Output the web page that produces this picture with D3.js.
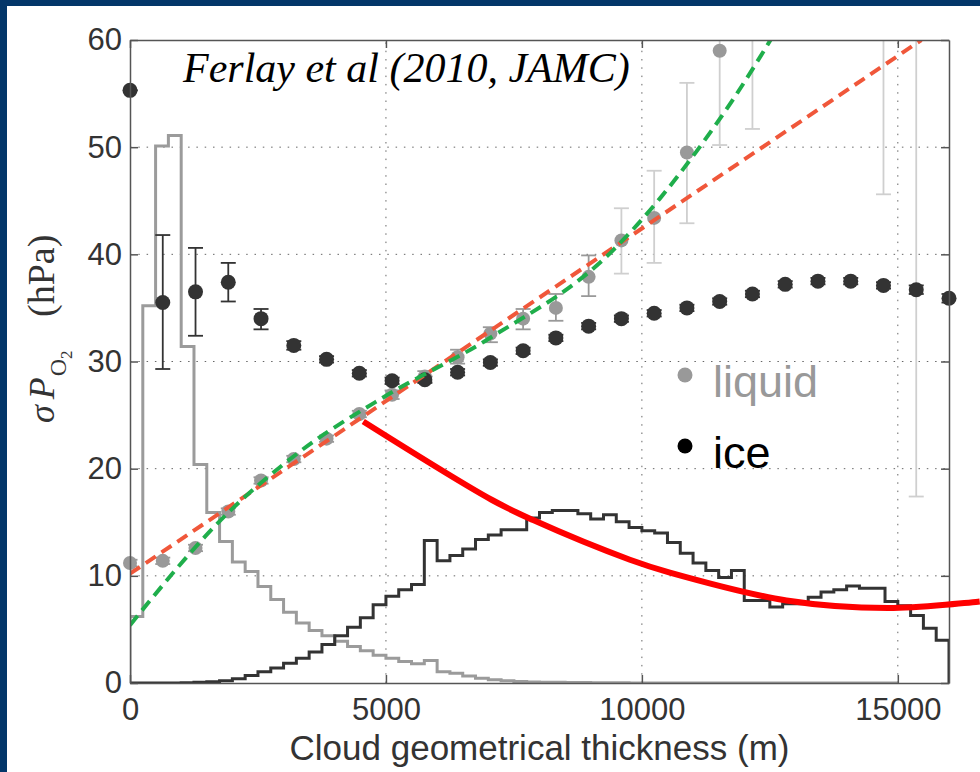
<!DOCTYPE html>
<html>
<head>
<meta charset="utf-8">
<script src="https://cdn.jsdelivr.net/npm/d3@7"></script>
<style>
  body { margin: 0; background: #fff; }
</style>
</head>
<body>
<div id="chart"></div>
<script>
// histogram bins (250 m wide), arbitrary units on the sigma axis
var binWidth = 250;
var liquidHist = [6.2, 35.2, 50.1, 51.1, 31.4, 20.4, 15.9, 13.2, 11.3, 10.4,
                  9.0, 7.8, 6.6, 5.6, 4.9, 4.4, 3.9, 3.4, 3.0, 2.6,
                  2.3, 2.0, 1.8, 2.1, 1.05, 0.9, 0.65, 0.45, 0.3, 0.2,
                  0.15, 0.1, 0.08, 0.06, 0.05, 0.04, 0.03, 0.02, 0.02, 0.01,
                  0.01, 0, 0, 0, 0, 0, 0, 0, 0, 0,
                  0, 0, 0, 0, 0, 0, 0, 0, 0, 0];
var iceHist = [0, 0, 0, 0, 0.03, 0.06, 0.12, 0.2, 0.4, 0.7,
               1.05, 1.4, 1.85, 2.3, 2.9, 3.6, 4.4, 5.2, 6.1, 7.3,
               8.1, 8.7, 9.2, 13.3, 11.4, 11.9, 12.5, 13.4, 13.8, 14.3,
               14.3, 15.4, 15.9, 16.1, 16.1, 15.8, 15.3, 15.7, 15.05, 14.5,
               14.2, 14.0, 13.1, 12.1, 11.2, 10.5, 9.85, 10.5, 7.7, 7.7,
               7.1, 7.4, 7.4, 8.0, 8.5, 8.7, 9.05, 8.85, 8.85, 7.6,
               7.2, 6.3, 5.1, 4.0];

// liquid clouds: mean sigma and error range (null mean = off the chart)
var liquidThick = [0, 640, 1280, 1920, 2560, 3200, 3840, 4480, 5120, 5760,
                   6400, 7040, 7680, 8320, 8960, 9600, 10240, 10880, 11520, 12160,
                   14720, 15360];
var liquidMean = [11.2, 11.4, 12.6, 16.0, 18.9, 20.9, 22.8, 25.1, 26.9, 28.6,
                  30.4, 32.6, 34.0, 35.0, 37.9, 41.3, 43.4, 49.5, 59.0, null,
                  null, null];
var liquidLow = [10.9, 11.1, 12.3, 15.7, 18.6, 20.6, 22.5, 24.8, 26.5, 28.1,
                 29.8, 31.8, 33.0, 33.8, 36.1, 38.2, 39.2, 42.9, 50.2, 51.7,
                 45.6, 17.4];
var liquidHigh = [11.5, 11.7, 12.9, 16.3, 19.2, 21.2, 23.1, 25.4, 27.3, 29.1,
                  31.1, 33.2, 34.9, 36.3, 39.9, 44.3, 47.8, 56.0, 66, 70,
                  75, 90];

// ice clouds
var iceThick = [0, 640, 1280, 1920, 2560, 3200, 3840, 4480, 5120, 5760,
                6400, 7040, 7680, 8320, 8960, 9600, 10240, 10880, 11520, 12160,
                12800, 13440, 14080, 14720, 15360, 16000];
var iceMean = [55.3, 35.5, 36.5, 37.4, 34.0, 31.5, 30.2, 28.9, 28.2, 28.3,
               29.0, 29.9, 31.0, 32.2, 33.3, 34.0, 34.5, 35.0, 35.6, 36.3,
               37.2, 37.5, 37.5, 37.1, 36.7, 35.9];
var iceLow = [55.3, 29.3, 32.4, 35.6, 33.0, 31.1, 29.9, 28.6, 27.9, 28.0,
              28.7, 29.6, 30.7, 31.9, 33.0, 33.7, 34.2, 34.7, 35.3, 36.0,
              36.9, 37.2, 37.2, 36.8, 36.3, 35.5];
var iceHigh = [55.3, 41.8, 40.6, 39.2, 34.9, 31.9, 30.5, 29.2, 28.5, 28.6,
               29.3, 30.2, 31.3, 32.5, 33.6, 34.3, 34.8, 35.3, 35.9, 36.6,
               37.5, 37.8, 37.8, 37.4, 37.1, 36.3];

// fitted curves
var linearFit = [[0, 10.2], [15460, 60]];
var cubicFit = [[0, 5.4], [1920, 15.9], [3320, 21.6], [5000, 26.8], [7000, 32.1],
                [9440, 40.4], [10350, 45.2], [11035, 49.4], [11816, 54.7], [12513, 60]];
var sketchCurve = [[4557, 24.4], [7064, 17.1], [7876, 15.2], [9766, 11.5], [10547, 10.3],
                   [12826, 7.7], [14805, 7.0], [16600, 7.6]];

var xTicks = [0, 5000, 10000, 15000];
var yTicks = [0, 10, 20, 30, 40, 50, 60];
var legendLabels = ["liquid", "ice"];

var width = 980, height = 772;
var margin = {top: 40, right: 31, bottom: 89, left: 130};

var svg = d3.select("#chart")
  .append("svg")
    .attr("width", width)
    .attr("height", height);

svg.append("rect").attr("width", width).attr("height", height).attr("fill", "#fff");
// navy slide frame
svg.append("rect").attr("x", 0).attr("y", 0).attr("width", width).attr("height", 6).attr("fill", "#033669");
svg.append("rect").attr("x", 0).attr("y", 0).attr("width", 7).attr("height", height).attr("fill", "#033669");

var x = d3.scaleLinear()
  .domain([0, 16000])
  .range([margin.left, width - margin.right]);
var y = d3.scaleLinear()
  .domain([0, 60])
  .range([height - margin.bottom, margin.top]);

svg.append("defs").append("clipPath").attr("id", "plotClip")
  .append("rect")
    .attr("x", x(0)).attr("y", y(60))
    .attr("width", x(16000) - x(0)).attr("height", y(0) - y(60));

// dotted grid
var grid = svg.append("g").attr("stroke", "#666").attr("stroke-width", 1).attr("stroke-dasharray", "1.5,6.8");
grid.selectAll(".gx").data(xTicks.filter(function(d) { return d > 0; }))
  .enter().append("line")
    .attr("x1", function(d) { return x(d); }).attr("x2", function(d) { return x(d); })
    .attr("y1", y(0)).attr("y2", y(60));
grid.selectAll(".gy").data(yTicks.filter(function(d) { return d > 0 && d < 60; }))
  .enter().append("line")
    .attr("x1", x(0)).attr("x2", x(16000))
    .attr("y1", function(d) { return y(d); }).attr("y2", function(d) { return y(d); });

// histograms as step lines
function histPoints(vals) {
  var pts = [[0, 0]];
  vals.forEach(function(v, i) { pts.push([i * binWidth, v]); });
  pts.push([vals.length * binWidth, vals[vals.length - 1]]);
  pts.push([vals.length * binWidth, 0]);
  return pts;
}
var stepLine = d3.line()
  .x(function(d) { return x(d[0]); })
  .y(function(d) { return y(d[1]); })
  .curve(d3.curveStepAfter);

var plot = svg.append("g").attr("clip-path", "url(#plotClip)");
plot.append("path")
  .datum(histPoints(liquidHist))
  .attr("fill", "none").attr("stroke", "#9b9b9b").attr("stroke-width", 3)
  .attr("d", stepLine);
plot.append("path")
  .datum(histPoints(iceHist))
  .attr("fill", "none").attr("stroke", "#333").attr("stroke-width", 3)
  .attr("d", stepLine);

// error bars
function errorBars(thick, low, high, colorFn) {
  var g = plot.append("g");
  thick.forEach(function(t, i) {
    var c = colorFn(i);
    g.append("line").attr("x1", x(t)).attr("x2", x(t)).attr("y1", y(low[i])).attr("y2", y(high[i]))
      .attr("stroke", c).attr("stroke-width", 1.8);
    [low[i], high[i]].forEach(function(v) {
      g.append("line").attr("x1", x(t) - 7.5).attr("x2", x(t) + 7.5).attr("y1", y(v)).attr("y2", y(v))
        .attr("stroke", c).attr("stroke-width", 1.8);
    });
  });
}
errorBars(liquidThick, liquidLow, liquidHigh, function(i) {
  return (liquidHigh[i] - liquidLow[i]) > 5 ? "#cfcfcf" : "#999";
});

var liquidPts = liquidThick.map(function(t, i) { return {t: t, v: liquidMean[i]}; })
  .filter(function(d) { return d.v !== null; });
svg.append("g").selectAll("circle").data(liquidPts).enter().append("circle")
  .attr("cx", function(d) { return x(d.t); })
  .attr("cy", function(d) { return y(d.v); })
  .attr("r", 7)
  .attr("fill", "#999");

errorBars(iceThick, iceLow, iceHigh, function() { return "#333"; });
svg.append("g").selectAll("circle").data(iceThick).enter().append("circle")
  .attr("cx", function(d) { return x(d); })
  .attr("cy", function(d, i) { return y(iceMean[i]); })
  .attr("r", 7.5)
  .attr("fill", "#333");

// dashed fits
var fitLine = d3.line()
  .x(function(d) { return x(d[0]); })
  .y(function(d) { return y(d[1]); });
var fits = svg.append("g").attr("clip-path", "url(#plotClip)");
fits.append("path")
  .datum(linearFit)
  .attr("fill", "none").attr("stroke", "#f0573a").attr("stroke-width", 4)
  .attr("stroke-dasharray", "12,7")
  .attr("d", fitLine);
fits.append("path")
  .datum(cubicFit)
  .attr("fill", "none").attr("stroke", "#1fae4b").attr("stroke-width", 4)
  .attr("stroke-dasharray", "12,7")
  .attr("d", fitLine.curve(d3.curveMonotoneX));

// box and inner ticks
var axisFont = "'Liberation Sans', Arial, Helvetica, sans-serif";
var yAxisL = svg.append("g")
  .attr("transform", "translate(" + x(0) + ",0)")
  .call(d3.axisLeft(y).tickValues(yTicks).tickSizeInner(-8).tickSizeOuter(0).tickPadding(8));
var xAxisB = svg.append("g")
  .attr("transform", "translate(0," + y(0) + ")")
  .call(d3.axisBottom(x).tickValues(xTicks).tickFormat(d3.format("d"))
    .tickSizeInner(-8).tickSizeOuter(0).tickPadding(15));
var yAxisR = svg.append("g")
  .attr("transform", "translate(" + x(16000) + ",0)")
  .call(d3.axisRight(y).tickValues(yTicks).tickSizeInner(-8).tickSizeOuter(0).tickFormat(""));
var xAxisT = svg.append("g")
  .attr("transform", "translate(0," + y(60) + ")")
  .call(d3.axisTop(x).tickValues(xTicks).tickSizeInner(-8).tickSizeOuter(0).tickFormat(""));

[yAxisL, xAxisB, yAxisR, xAxisT].forEach(function(a) {
  a.select(".domain").attr("stroke", "#555").attr("stroke-width", 1.5);
  a.selectAll(".tick line").attr("stroke", "#555").attr("stroke-width", 1.5);
  a.selectAll(".tick text").attr("fill", "#333").style("font-family", axisFont).style("font-size", "31px");
});
xAxisB.selectAll(".tick text").attr("dy", "0.71em");

// red sketched curve drawn over everything, not clipped
svg.append("path")
  .datum(sketchCurve)
  .attr("fill", "none").attr("stroke", "#ff0000").attr("stroke-width", 6)
  .attr("d", d3.line()
    .curve(d3.curveCatmullRom)
    .x(function(d) { return x(d[0]); })
    .y(function(d) { return y(d[1]); }));

// labels
svg.append("text")
  .text("Cloud geometrical thickness (m)")
  .attr("x", (x(0) + x(16000)) / 2).attr("y", 760)
  .attr("text-anchor", "middle")
  .attr("fill", "#333")
  .style("font-family", axisFont).style("font-size", "35px");

var serif = "'Liberation Serif', 'Times New Roman', Times, serif";
var yl = svg.append("text")
  .attr("transform", "translate(54,423) rotate(-90)")
  .attr("fill", "#333")
  .style("font-family", serif).style("font-size", "36px");
yl.append("tspan").text("\u03C3").style("font-style", "italic");
yl.append("tspan").text("P").attr("dx", 6).style("font-style", "italic");
yl.append("tspan").text("O").attr("dx", 1).attr("dy", 12).style("font-size", "24px");
yl.append("tspan").text("2").attr("dy", 6).style("font-size", "17px");
svg.append("text")
  .text("(hPa)")
  .attr("transform", "translate(54,317) rotate(-90)")
  .attr("fill", "#333")
  .style("font-family", serif).style("font-size", "38px");

svg.append("text")
  .text("Ferlay et al (2010, JAMC)")
  .attr("x", 183).attr("y", 82)
  .attr("fill", "#000")
  .style("font-family", serif).style("font-style", "italic").style("font-size", "42px");

// legend
var legendColors = ["#999", "#000"];
var legend = svg.append("g").selectAll("g").data(legendLabels).enter().append("g")
  .attr("transform", function(d, i) { return "translate(685," + (375 + i * 71) + ")"; });
legend.append("circle").attr("r", 7.5).attr("fill", function(d, i) { return legendColors[i]; });
legend.append("text")
  .text(function(d) { return d; })
  .attr("x", 28).attr("y", 22)
  .attr("fill", function(d, i) { return legendColors[i]; })
  .style("font-family", axisFont).style("font-size", "45px");
</script>
</body>
</html>
